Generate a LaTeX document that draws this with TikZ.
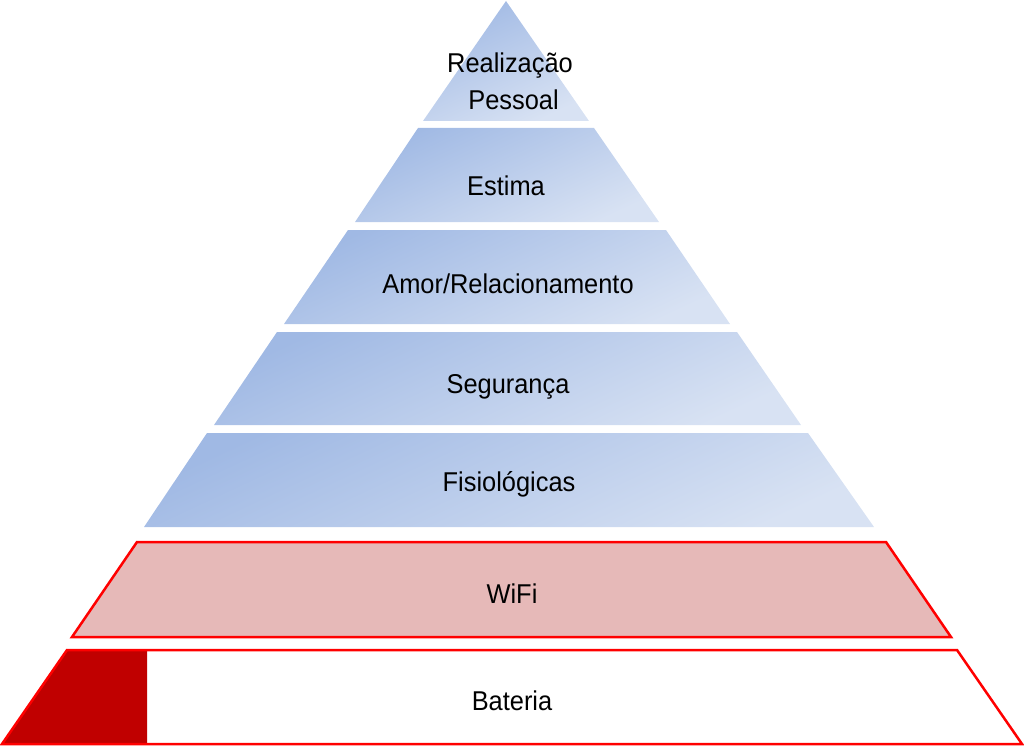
\documentclass[tikz,border=0pt]{standalone}
\usepackage{fontspec}
\setmainfont[FakeStretch=0.934]{Liberation Sans}
\definecolor{bdark}{RGB}{160,185,228}
\definecolor{blight}{RGB}{216,226,243}
\definecolor{wifi}{RGB}{230,185,184}
\definecolor{bred}{RGB}{255,0,0}
\definecolor{dred}{RGB}{192,0,0}
\tikzset{
  layer/.style={top color=bdark, bottom color=blight, shading angle=25},
  redlayer/.style={draw=bred, line width=2.5pt, line join=miter},
  lbl/.style={font=\fontsize{27.2}{36.7}\selectfont, text=black, inner sep=0pt, align=center, anchor=base}
}
\begin{document}
\begin{tikzpicture}[x=1pt,y=-1pt]
\useasboundingbox (0,0) rectangle (1024,746);
% blue layers
\shade[layer] (506,1) -- (589,121) -- (423,121) -- cycle;
\shade[layer] (418,128) -- (594,128) -- (659,222) -- (355,222) -- cycle;
\shade[layer] (348,230) -- (666,230) -- (730,324) -- (284,324) -- cycle;
\shade[layer] (277,332) -- (737,332) -- (801,425) -- (214,425) -- cycle;
\shade[layer] (207,433) -- (808,433) -- (874,527) -- (144,527) -- cycle;
% red layers
\fill[wifi] (137,542) -- (886,542) -- (951,637) -- (72,637) -- cycle;
\draw[redlayer] (137,542) -- (886,542) -- (951,637) -- (72,637) -- cycle;
\fill[white] (67,650) -- (957,650) -- (1022,744) -- (2,744) -- cycle;
\fill[dred] (67,650) -- (147,650) -- (147,744) -- (2,744) -- cycle;
\draw[redlayer] (67,650) -- (957,650) -- (1022,744) -- (2,744) -- cycle;
% labels
\node[lbl] (realizacao) at (510,109.3) {Realização\\\ Pessoal};
\node[lbl] (estima) at (506,195) {Estima};
\node[lbl] (amor) at (508,293.5) {Amor/Relacionamento};
\node[lbl] (seguranca) at (508,393.5) {Segurança};
\node[lbl] (fisiologicas) at (509,491.7) {Fisiológicas};
\node[lbl] (wifil) at (512,603.3) {WiFi};
\node[lbl] (bateria) at (512,710) {Bateria};
\end{tikzpicture}
\end{document}
